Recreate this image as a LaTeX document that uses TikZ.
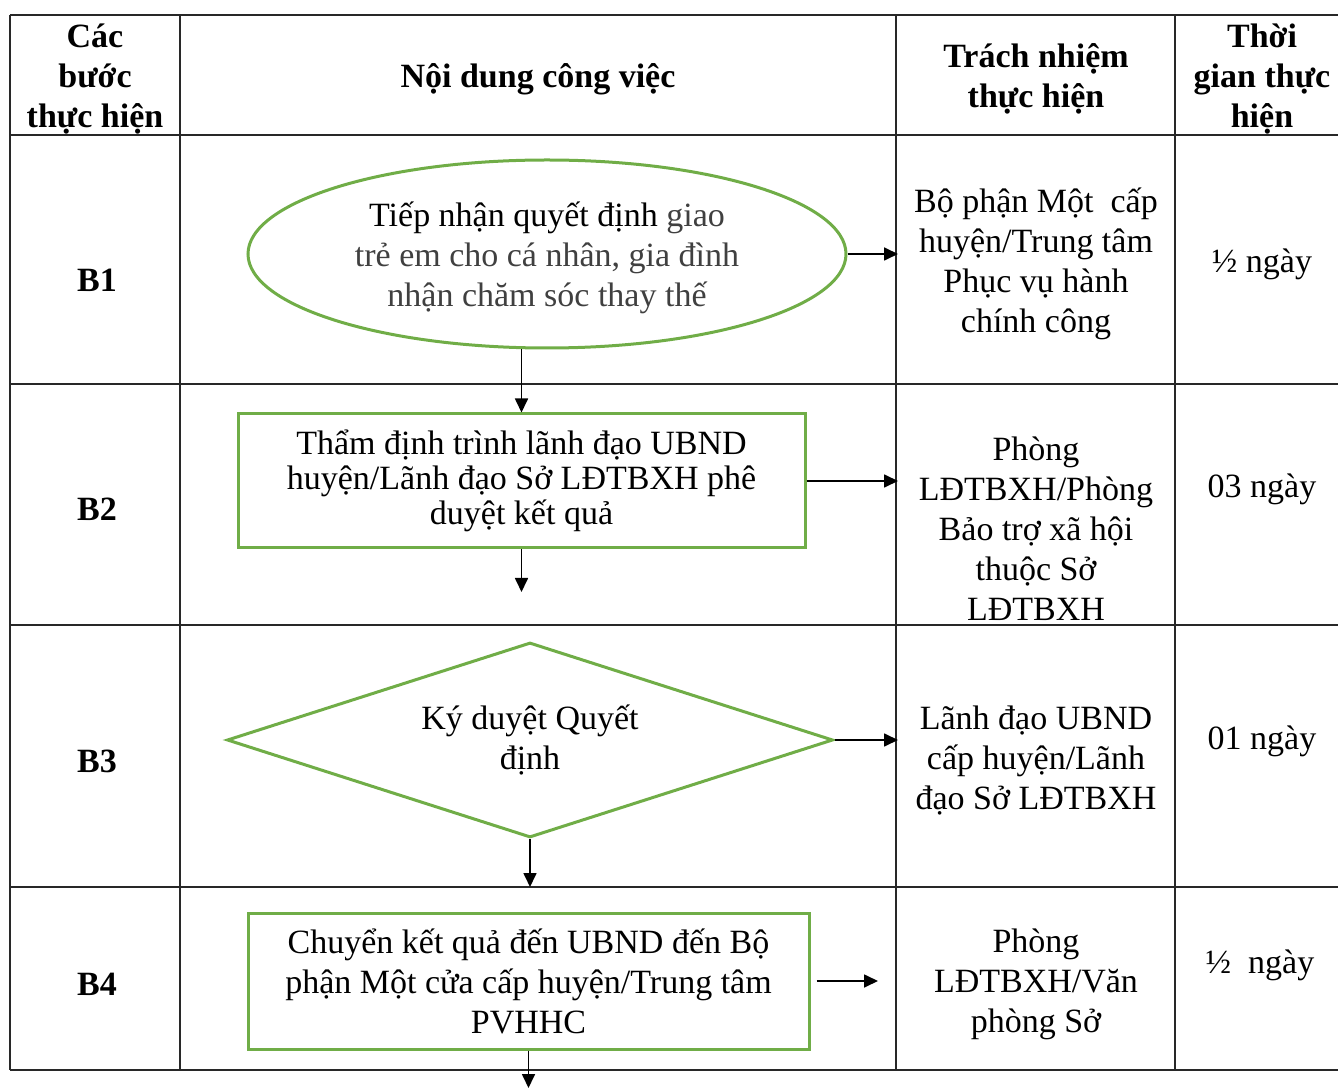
\documentclass[tikz,border=0pt]{standalone}
\usepackage{fontspec}
\setmainfont{Liberation Serif}
\usetikzlibrary{shapes.geometric,arrows.meta}
\definecolor{flowgreen}{RGB}{112,173,71}
\definecolor{softgray}{RGB}{64,64,64}
\definecolor{gridgray}{RGB}{40,40,40}

\begin{document}
\begin{tikzpicture}[x=0.5pt,y=-0.5pt,
  cell/.style={align=center,inner sep=0pt,font=\fontsize{17}{20}\selectfont},
  txt/.style={cell,yshift=-1.5pt},
  head/.style={txt,font=\fontsize{17}{20}\selectfont\bfseries},
  shapeline/.style={draw=flowgreen,line width=1.5pt},
  stepbox/.style={cell,shapeline},
  arrow/.style={-{Triangle[length=7pt,width=6.5pt]},line width=0.85pt},
  grid/.style={gridgray,line width=0.8pt}
]
  \useasboundingbox (0,0) rectangle (1338,1090);
  \clip (0,0) rectangle (1338,1090);

  \foreach \y in {15,135,384,625,887,1070}
    \draw[grid] (10,\y) -- (1360,\y);
  \foreach \x in {10,180,896,1175,1350}
    \draw[grid] (\x,15) -- (\x,1070);

  \node[head] (hstep) at (95,76) {Các\\bước\\thực hiện};
  \node[head] (hwork) at (538,76) {Nội dung công việc};
  \node[head] (hresp) at (1036,76) {Trách nhiệm\\thực hiện};
  \node[head] (htime) at (1262,76) {Thời\\gian thực\\hiện};

  \node[head] (s1) at (97,277) {B1};
  \node[head] (s2) at (97,506) {B2};
  \node[head] (s3) at (97,758) {B3};
  \node[head] (s4) at (97,981) {B4};

  \node[stepbox,ellipse,minimum width=299pt,minimum height=94pt,text depth=-6pt] (e1) at (547,254)
    {Tiếp nhận quyết định {\color{softgray}giao}\\{\color{softgray}trẻ em cho cá nhân, gia đình}\\{\color{softgray}nhận chăm sóc thay thế}};
  \node[stepbox,minimum width=283.5pt,minimum height=67pt,font=\fontsize{17}{17.5}\selectfont] (b2) at (521.5,481)
    {Thẩm định trình lãnh đạo UBND\\huyện/Lãnh đạo Sở LĐTBXH phê\\duyệt kết quả};
  \node[stepbox,diamond,aspect=3.1,minimum width=303pt,minimum height=97.5pt] (d3) at (530,740)
    {Ký duyệt Quyết\\định};
  \node[stepbox,minimum width=280.5pt,minimum height=68pt] (b4) at (528.5,981)
    {Chuyển kết quả đến UBND đến Bộ\\phận Một cửa cấp huyện/Trung tâm\\PVHHC};

  \node[txt] (r1) at (1036,261) {Bộ phận Một\ \ cấp\\huyện/Trung tâm\\Phục vụ hành\\chính công};
  \node[txt] (t1) at (1262,261) {½ ngày};
  \node[txt] (r2) at (1036,526) {Phòng\\LĐTBXH/Phòng\\Bảo trợ xã hội\\thuộc Sở\\LĐTBXH};
  \node[txt] (t2) at (1262,486) {03 ngày};
  \node[txt] (r3) at (1036,758) {Lãnh đạo UBND\\cấp huyện/Lãnh\\đạo Sở LĐTBXH};
  \node[txt] (t3) at (1262,738) {01 ngày};
  \node[txt] (r4) at (1036,981) {Phòng\\LĐTBXH/Văn\\phòng Sở};
  \node[txt] (t4) at (1260,962) {½\ \ ngày};

  \coordinate (a1) at (898,260);
  \coordinate (a4) at (878,986);
  \coordinate (v2) at (521.5,592);
  \coordinate (v3) at (530,887);
  \coordinate (v4) at (528,1088);

  \draw[arrow] (e1.east) -- (e1.east -| a1);
  \draw[arrow] (b2.east) -- (b2.east -| a1);
  \draw[arrow] (d3.east) -- (d3.east -| a1);
  \draw[arrow] ([xshift=3pt]b4.east) -- (b4.east -| a4);

  \draw[arrow] (e1.south -| b2.north) -- (b2.north);
  \draw[arrow] (b2.south) -- (b2.south |- v2);
  \draw[arrow] (d3.south) -- (d3.south |- v3);
  \draw[arrow] (b4.south) -- (b4.south |- v4);
\end{tikzpicture}
\end{document}
